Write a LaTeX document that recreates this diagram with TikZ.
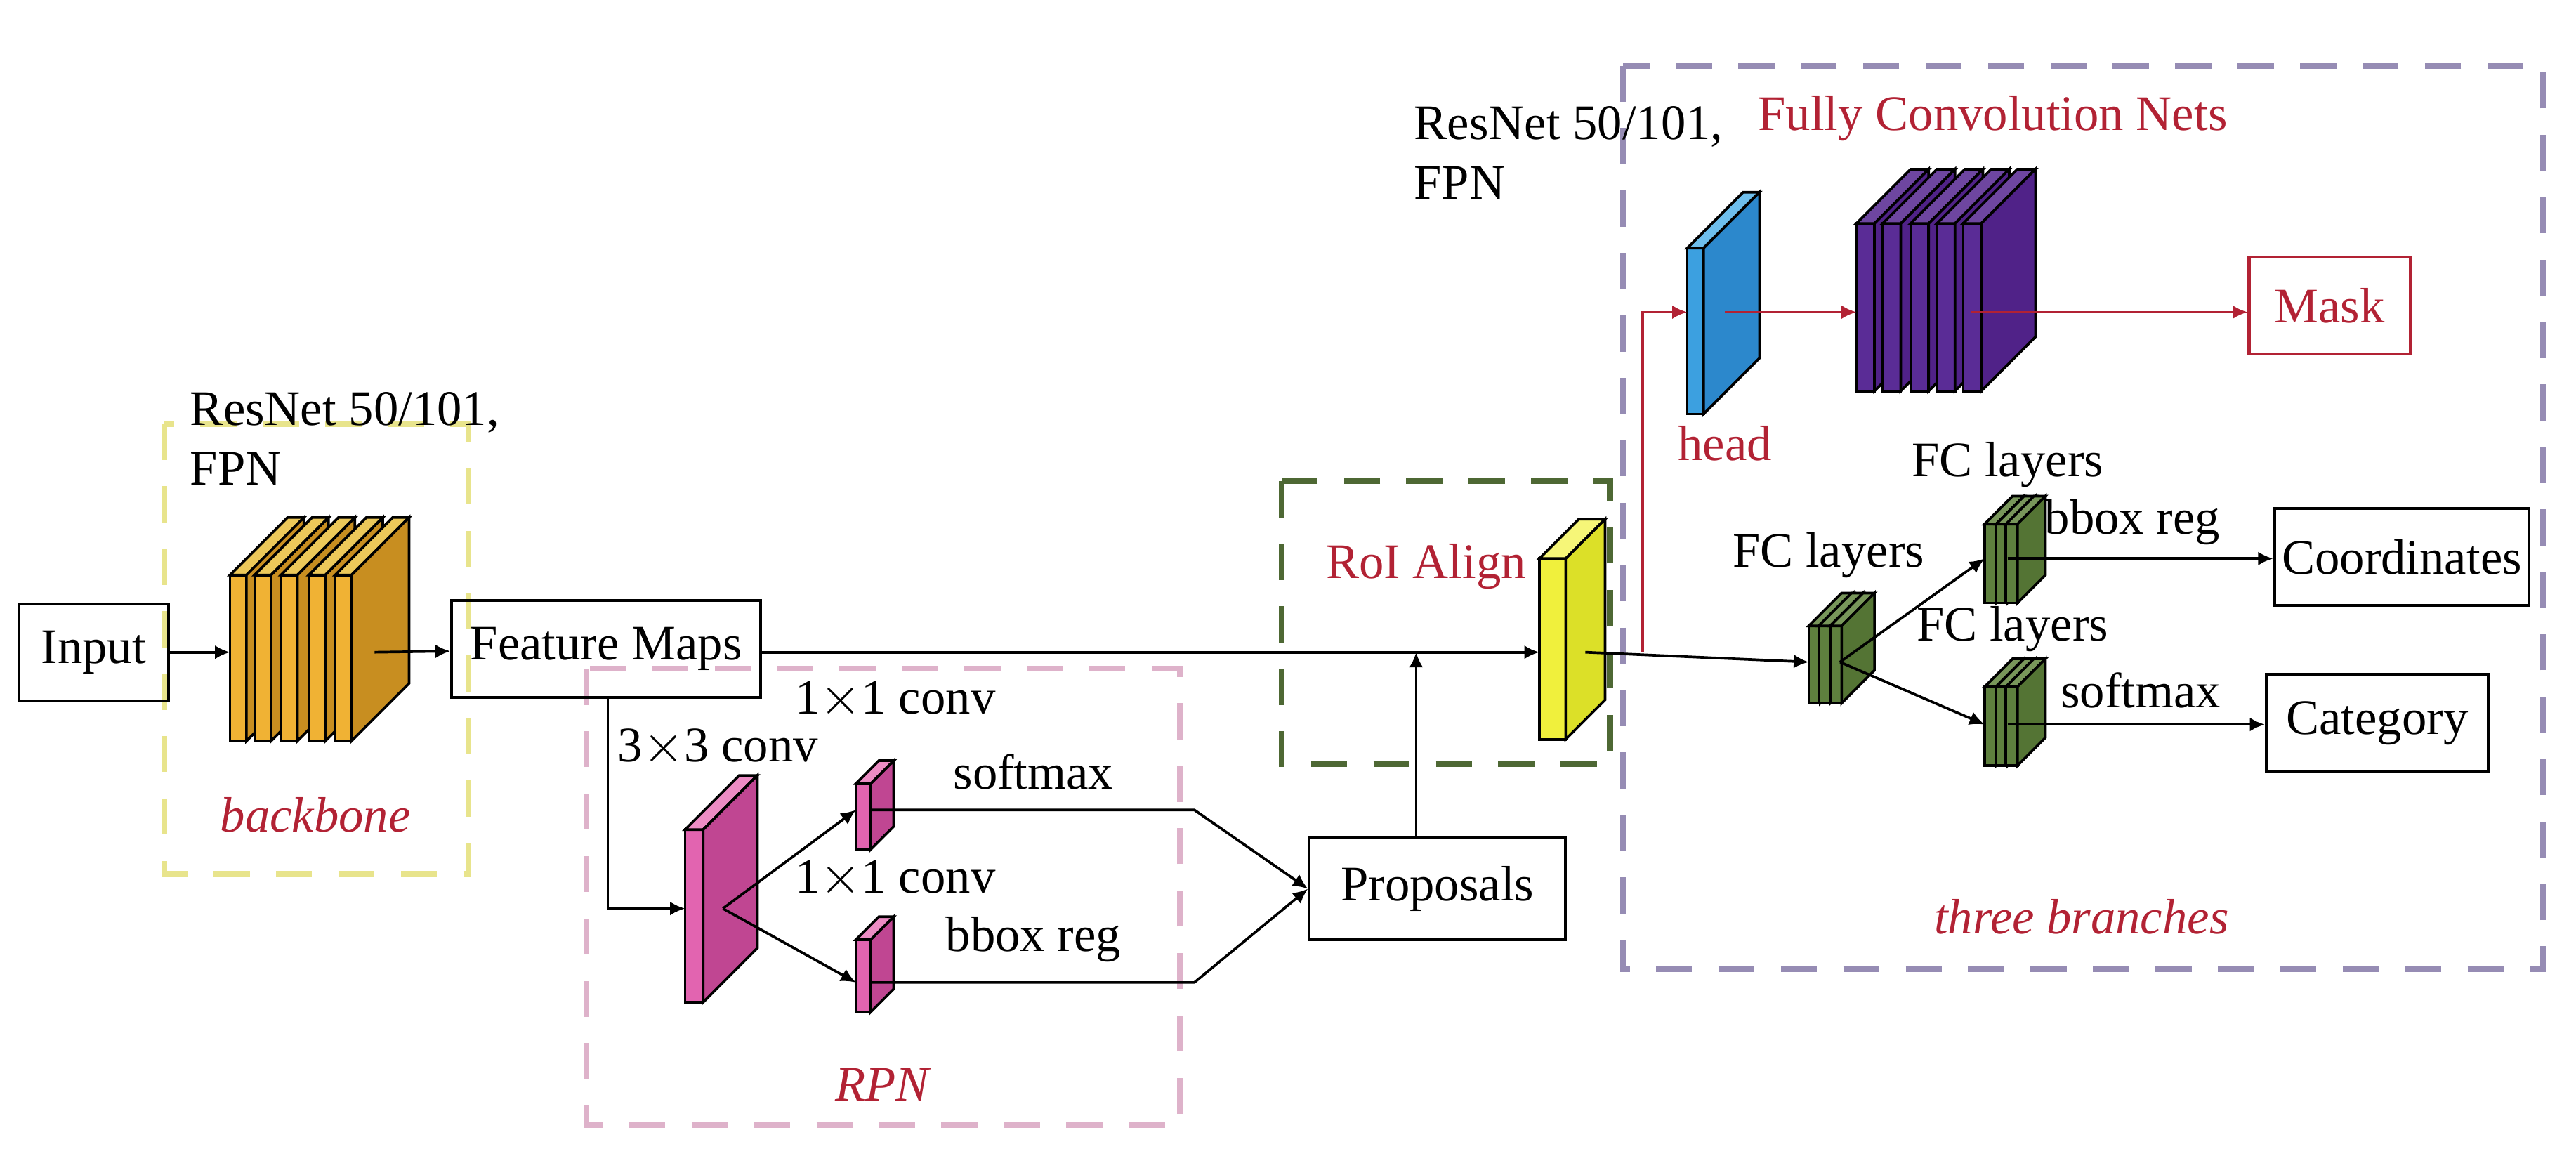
\documentclass[tikz,border=0pt]{standalone}
\usepackage{fontspec}
\setmainfont{Liberation Serif}
\newfontfamily\diagfont{Liberation Serif}
\usetikzlibrary{arrows.meta,positioning}
\definecolor{darkred}{RGB}{178,34,52}
\definecolor{bbyel}{RGB}{232,228,140}
\definecolor{rpnpink}{RGB}{222,178,202}
\definecolor{roigreen}{RGB}{78,104,52}
\definecolor{brpurple}{RGB}{150,140,180}
\definecolor{orfront}{RGB}{240,178,52}
\definecolor{ortop}{RGB}{236,200,90}
\definecolor{orside}{RGB}{200,142,32}
\definecolor{pkfront}{RGB}{226,100,176}
\definecolor{pktop}{RGB}{236,140,196}
\definecolor{pkside}{RGB}{192,70,146}
\definecolor{blfront}{RGB}{60,160,224}
\definecolor{bltop}{RGB}{110,190,236}
\definecolor{blside}{RGB}{44,136,204}
\definecolor{pufront}{RGB}{90,44,150}
\definecolor{putop}{RGB}{110,70,160}
\definecolor{puside}{RGB}{80,34,136}
\definecolor{gnfront}{RGB}{94,128,62}
\definecolor{gntop}{RGB}{120,150,90}
\definecolor{gnside}{RGB}{84,116,52}
\definecolor{yefront}{RGB}{240,240,60}
\definecolor{yetop}{RGB}{246,246,120}
\definecolor{yeside}{RGB}{220,224,40}
% slab: x, y (front top left), width, height, depth, front, top, side
\newcommand{\slab}[8]{
\filldraw[fill=#6] (#1,#2) rectangle ++(#3,#4);
\filldraw[fill=#7] (#1,#2) -- ++(#5,-#5) -- ++(#3,0) -- ++(-#5,#5) -- cycle;
\filldraw[fill=#8] (#1+#3,#2) -- ++(#5,-#5) -- ++(0,#4) -- ++(-#5,#5) -- cycle;
}
\tikzset{
box/.style={draw, line width=0.5pt, inner sep=0pt, minimum height=5.9mm},
arr/.style={-{Latex[length=2.6pt,width=2.4pt]}, line width=0.45pt},
frame/.style={dashed, line width=1pt, dash pattern=on 2.2mm off 1.6mm},
red label/.style={text=darkred}
}
\begin{document}
\begin{tikzpicture}[x=0.1mm, y=-0.1mm, font=\diagfont\fontsize{8.6}{10.3}\selectfont, line width=0.45pt]
\useasboundingbox (0,0) rectangle (1568,699);

% frames
\draw[frame, bbyel] (100,258) rectangle (285,532);
\draw[frame, rpnpink] (357,407) rectangle (718,685);
\draw[frame, roigreen] (780,293) rectangle (980,465);
\draw[frame, brpurple] (988,40) rectangle (1548,590);

% boxes
\node[box, minimum width=9.1mm] (input) at (57,397) {Input};
\node[box, minimum width=18.8mm] (fmaps) at (369,395) {Feature Maps};
\node[box, minimum width=15.6mm, minimum height=6.2mm] (prop) at (875,541) {Proposals};
\node[box, draw=darkred, text=darkred, minimum width=9.8mm] (mask) at (1418,186) {Mask};
\node[box, minimum width=15.5mm] (coord) at (1462,339) {Coordinates};
\node[box, minimum width=13.5mm] (categ) at (1447,440) {Category};

% backbone
\foreach \x in {140,155,171,188,204}
\slab{\x}{350}{10}{101}{35}{orfront}{ortop}{orside};
% RPN
\slab{417}{505}{11}{105}{33}{pkfront}{pktop}{pkside};
\slab{521}{477}{9}{40}{14}{pkfront}{pktop}{pkside};
\slab{521}{572}{9}{44}{14}{pkfront}{pktop}{pkside};
% RoI
\slab{937}{340}{16}{110}{24}{yefront}{yetop}{yeside};
% mask branch
\slab{1027}{151}{10}{101}{34}{blfront}{bltop}{blside};
\foreach \x in {1130,1146,1163,1179,1195}
\slab{\x}{136}{11}{102}{33}{pufront}{putop}{puside};
% FC layers
\foreach \x in {1101,1107,1114}
\slab{\x}{381}{7}{47}{20}{gnfront}{gntop}{gnside};
\foreach \x in {1208,1215,1221}
{
\slab{\x}{319}{7}{48}{17}{gnfront}{gntop}{gnside};
\slab{\x}{418}{7}{48}{17}{gnfront}{gntop}{gnside};
}

% anchors on the slabs
\coordinate (bbin) at (140,397);
\coordinate (bbout) at (228,397);
\coordinate (c33in) at (417,553);
\coordinate (c33out) at (440,553);
\coordinate (clsin) at (521,493);
\coordinate (clsout) at (531,493);
\coordinate (regin) at (521,598);
\coordinate (regout) at (531,598);
\coordinate (roiin) at (937,397);
\coordinate (roiout) at (965,397);
\coordinate (headin) at (1027,190);
\coordinate (headout) at (1050,190);
\coordinate (fcnin) at (1130,190);
\coordinate (fcnout) at (1200,190);
\coordinate (fcin) at (1101,403);
\coordinate (fcout) at (1120,403);
\coordinate (fcain) at (1208,340);
\coordinate (fcaout) at (1222,340);
\coordinate (fcbin) at (1208,441);
\coordinate (fcbout) at (1222,441);

% connectors
\draw[arr] (input) -- (bbin);
\draw[arr] (bbout) -- (fmaps);
\draw[arr] (fmaps.east |- roiin) -- (roiin);
\draw[arr] (fmaps.south -| 370,0) |- (c33in);
\draw[arr] (c33out) -- (clsin);
\draw[arr] (c33out) -- (regin);
\draw[arr] (clsout) -- node[above]{softmax} (727,493) -- (prop.west);
\draw[arr] (regout) -- node[above]{bbox reg} (727,598) -- (prop.west);
\draw[arr] (prop.north -| 862,0) -- (862,397);
\draw[arr] (roiout) -- (fcin);
\draw[arr, darkred] (1000,397) |- (headin);
\draw[arr, darkred] (headout) -- (fcnin);
\draw[arr, darkred] (fcnout) -- (fcnout -| mask.west);
\draw[arr] (fcout) -- (fcain);
\draw[arr] (fcout) -- (fcbin);
\draw[arr] (fcaout) -- (fcaout -| coord.west);
\draw[arr] (fcbout) -- (fcbout -| categ.west);

% labels
\node[align=left, anchor=north west, inner sep=0pt] (rn1) at (115,238) {ResNet 50/101,\\FPN};
\node[align=left, anchor=north west, inner sep=0pt] (rn2) at (860,64) {ResNet 50/101,\\FPN};
\node[red label, font=\diagfont\fontsize{8.6}{10.3}\selectfont\itshape] (bblab) at (192,496) {backbone};
\node[red label, font=\diagfont\fontsize{8.6}{10.3}\selectfont\itshape] (rpnlab) at (537,660) {RPN};
\node[red label] (roilab) at (868,345) {RoI Align};
\node[red label] (fcnlab) at (1213,72) {Fully Convolution Nets};
\node[red label] (headlab) at (1050,270) {head};
\node[red label, font=\diagfont\fontsize{8.6}{10.3}\selectfont\itshape] (brlab) at (1267,558) {three branches};
\node (c33lab) at (437,455) {3$\times$3 conv};
\node (c11a) at (545,426) {1$\times$1 conv};
\node (c11b) at (545,535) {1$\times$1 conv};
\node (fc1lab) at (1113,338) {FC layers};
\node (fc2lab) at (1222,283) {FC layers};
\node (fc3lab) at (1225,383) {FC layers};
\node (regb) at (1298,318) {bbox reg};
\node (smaxb) at (1303,420) {softmax};
\end{tikzpicture}
\end{document}
